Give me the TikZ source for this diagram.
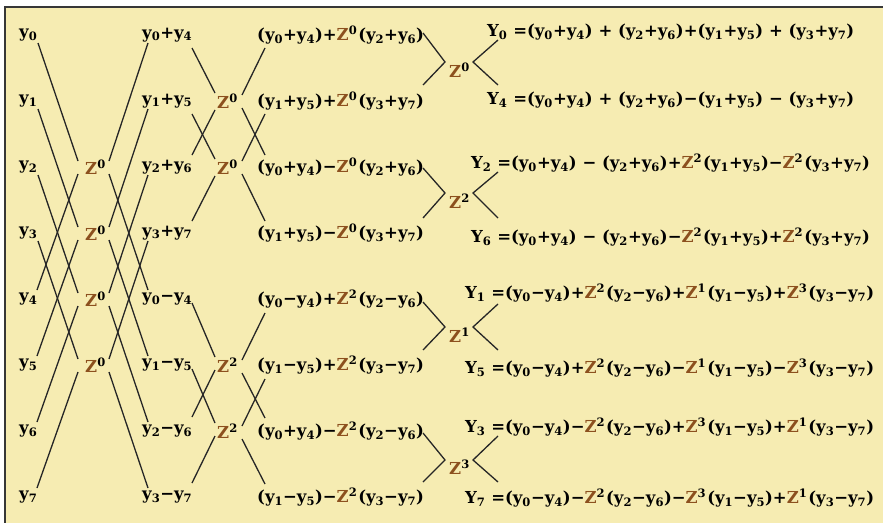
\documentclass[tikz,border=0pt]{standalone}
\usepackage{fontspec}
\setmainfont{DejaVu Serif}
\usetikzlibrary{calc}
\definecolor{bg}{RGB}{246,236,178}
\definecolor{zc}{RGB}{140,80,30}
\definecolor{framec}{RGB}{55,55,55}
\newcommand\yy[1]{y\textsubscript{#1}}
\newcommand\YY[1]{Y\textsubscript{#1}}
\newcommand\zz[1]{\textcolor{zc}{Z}\textsuperscript{#1}\kern1pt}
\newcommand\mn{−}
\tikzset{
  lbl/.style={anchor=west,inner sep=0pt,font=\fontsize{16.5}{20}\selectfont\bfseries},
  zlbl/.style={inner sep=0pt,font=\fontsize{16.5}{20}\selectfont\bfseries},
  wire/.style={line width=1.3pt,black!85}
}
\begin{document}
\begin{tikzpicture}[x=1pt,y=-1pt]
\useasboundingbox (0,0) rectangle (883,522);
\clip (0,0) rectangle (883,522);
\fill[white] (0,0) rectangle (883,522);
\draw[fill=bg,draw=framec,line width=2.5pt] (5,7) rectangle (890,530);
% column 1
\foreach \k in {0,...,7}{
  \node[lbl] (a\k) at (19,{35+66*\k}) {\yy{\k}};
}
% column 1 twiddles
\foreach \k in {2,...,5}{
  \node[zlbl] (za\k) at (96,{35+66*\k}) {\zz{0}};
}
% column 2
\node[lbl] (b0) at (142,35)  {\yy{0}+\yy{4}};
\node[lbl] (b1) at (142,101) {\yy{1}+\yy{5}};
\node[lbl] (b2) at (142,167) {\yy{2}+\yy{6}};
\node[lbl] (b3) at (142,233) {\yy{3}+\yy{7}};
\node[lbl] (b4) at (142,299) {\yy{0}\mn\yy{4}};
\node[lbl] (b5) at (142,365) {\yy{1}\mn\yy{5}};
\node[lbl] (b6) at (142,431) {\yy{2}\mn\yy{6}};
\node[lbl] (b7) at (142,497) {\yy{3}\mn\yy{7}};
% column 2 twiddles
\node[zlbl] (zb1) at (228,101) {\zz{0}};
\node[zlbl] (zb2) at (228,167) {\zz{0}};
\node[zlbl] (zb5) at (228,365) {\zz{2}};
\node[zlbl] (zb6) at (228,431) {\zz{2}};
% column 3
\node[lbl] (c0) at (257,35)  {(\yy{0}+\yy{4})+\zz{0}(\yy{2}+\yy{6})};
\node[lbl] (c1) at (257,101) {(\yy{1}+\yy{5})+\zz{0}(\yy{3}+\yy{7})};
\node[lbl] (c2) at (257,167) {(\yy{0}+\yy{4})\mn\zz{0}(\yy{2}+\yy{6})};
\node[lbl] (c3) at (257,233) {(\yy{1}+\yy{5})\mn\zz{0}(\yy{3}+\yy{7})};
\node[lbl] (c4) at (257,299) {(\yy{0}\mn\yy{4})+\zz{2}(\yy{2}\mn\yy{6})};
\node[lbl] (c5) at (257,365) {(\yy{1}\mn\yy{5})+\zz{2}(\yy{3}\mn\yy{7})};
\node[lbl] (c6) at (257,431) {(\yy{0}+\yy{4})\mn\zz{2}(\yy{2}\mn\yy{6})};
\node[lbl] (c7) at (257,497) {(\yy{1}\mn\yy{5})\mn\zz{2}(\yy{3}\mn\yy{7})};
% column 3 twiddles
\node[zlbl] (zc0) at (460,70)  {\zz{0}};
\node[zlbl] (zc1) at (460,201) {\zz{2}};
\node[zlbl] (zc2) at (460,335) {\zz{1}};
\node[zlbl] (zc3) at (460,467) {\zz{3}};
% outputs
\node[lbl] (d0) at (487,32)  {\YY{0} =(\yy{0}+\yy{4}) + (\yy{2}+\yy{6})+(\yy{1}+\yy{5}) + (\yy{3}+\yy{7})};
\node[lbl] (d1) at (487,100) {\YY{4} =(\yy{0}+\yy{4}) + (\yy{2}+\yy{6})\mn(\yy{1}+\yy{5}) \mn{} (\yy{3}+\yy{7})};
\node[lbl] (d2) at (471,163) {\YY{2} =(\yy{0}+\yy{4}) \mn{} (\yy{2}+\yy{6})+\zz{2}(\yy{1}+\yy{5})\mn\zz{2}(\yy{3}+\yy{7})};
\node[lbl] (d3) at (471,237) {\YY{6} =(\yy{0}+\yy{4}) \mn{} (\yy{2}+\yy{6})\mn\zz{2}(\yy{1}+\yy{5})+\zz{2}(\yy{3}+\yy{7})};
\node[lbl] (d4) at (465,293) {\YY{1} =(\yy{0}\mn\yy{4})+\zz{2}(\yy{2}\mn\yy{6})+\zz{1}(\yy{1}\mn\yy{5})+\zz{3}(\yy{3}\mn\yy{7})};
\node[lbl] (d5) at (465,368) {\YY{5} =(\yy{0}\mn\yy{4})+\zz{2}(\yy{2}\mn\yy{6})\mn\zz{1}(\yy{1}\mn\yy{5})\mn\zz{3}(\yy{3}\mn\yy{7})};
\node[lbl] (d6) at (465,427) {\YY{3} =(\yy{0}\mn\yy{4})\mn\zz{2}(\yy{2}\mn\yy{6})+\zz{3}(\yy{1}\mn\yy{5})+\zz{1}(\yy{3}\mn\yy{7})};
\node[lbl] (d7) at (465,498) {\YY{7} =(\yy{0}\mn\yy{4})\mn\zz{2}(\yy{2}\mn\yy{6})\mn\zz{3}(\yy{1}\mn\yy{5})+\zz{1}(\yy{3}\mn\yy{7})};
% stage 1 wires
\foreach \k in {0,...,3}{
  \pgfmathtruncatemacro\m{\k+2}
  \pgfmathtruncatemacro\n{\k+4}
  \draw[wire] ($(a\k.west)+(19,8)$) -- ($(za\m)+(-18,-6)$);
  \draw[wire] ($(a\n.west)+(18,-9)$) -- ($(za\m)+(-18,7)$);
  \draw[wire] ($(za\m)+(13,-6)$) -- ($(b\k.west)+(6,8)$);
  \draw[wire] ($(za\m)+(13,7)$) -- ($(b\n.west)+(6,-9)$);
}
% stage 2 wires, upper group
\foreach \m in {1,2}{
  \pgfmathtruncatemacro\p{\m-1}
  \pgfmathtruncatemacro\q{\m+1}
  \draw[wire] ($(b\p.west)+(50,13)$) -- ($(zb\m)+(-13,-8)$);
  \draw[wire] ($(b\q.west)+(50,-12)$) -- ($(zb\m)+(-13,9)$);
  \draw[wire] ($(zb\m)+(14,-6)$) -- ($(c\p.west)+(8,13)$);
  \draw[wire] ($(zb\m)+(14,7)$) -- ($(c\q.west)+(8,-12)$);
}
% stage 2 wires, lower group
\foreach \m in {5,6}{
  \pgfmathtruncatemacro\p{\m-1}
  \pgfmathtruncatemacro\q{\m+1}
  \draw[wire] ($(b\p.west)+(50,4)$) -- ($(zb\m)+(-13,-8)$);
  \draw[wire] ($(b\q.west)+(50,-14)$) -- ($(zb\m)+(-13,5)$);
  \draw[wire] ($(zb\m)+(14,-5)$) -- ($(c\p.west)+(8,14)$);
  \draw[wire] ($(zb\m)+(14,8)$) -- ($(c\q.west)+(8,-13)$);
}
% stage 3 wires
\draw[wire] ($(c0.west)+(166,-2)$) -- ($(zc0)+(-15,-8)$) -- ($(c1.west)+(166,-16)$);
\draw[wire] ($(c2.west)+(166,1)$)  -- ($(zc1)+(-15,-8)$) -- ($(c3.west)+(166,-15)$);
\draw[wire] ($(c4.west)+(166,3)$)  -- ($(zc2)+(-15,-8)$) -- ($(c5.west)+(166,-15)$);
\draw[wire] ($(c6.west)+(166,2)$)  -- ($(zc3)+(-15,-7)$) -- ($(c7.west)+(166,-15)$);
\draw[wire] ($(d0.west)+(11,8)$)  -- ($(zc0)+(13,-8)$) -- ($(d1.west)+(11,-15)$);
\draw[wire] ($(d2.west)+(27,9)$)  -- ($(zc1)+(13,-8)$) -- ($(d3.west)+(27,-19)$);
\draw[wire] ($(d4.west)+(33,11)$) -- ($(zc2)+(13,-8)$) -- ($(d5.west)+(33,-18)$);
\draw[wire] ($(d6.west)+(33,9)$)  -- ($(zc3)+(13,-7)$) -- ($(d7.west)+(33,-16)$);
\end{tikzpicture}
\end{document}
